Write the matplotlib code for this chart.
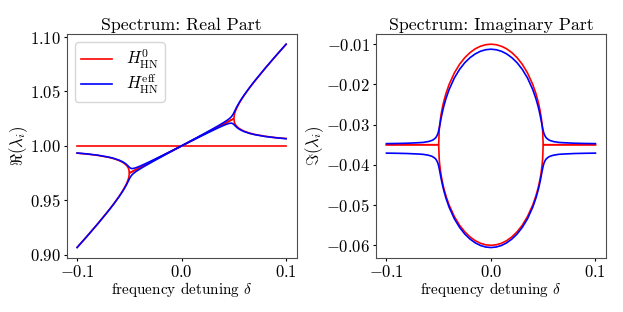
import numpy as np
import matplotlib
matplotlib.use("Agg")
import matplotlib.pyplot as plt

plt.rcParams['font.family'] = 'serif'
plt.rcParams['font.serif'] = ['cmr10']
plt.rcParams['mathtext.fontset'] = 'cm'
plt.rcParams['axes.formatter.use_mathtext'] = True

# ----------DATA----------
delta = [-0.1, -0.09, -0.08, -0.07, -0.065, -0.06, -0.057, -0.055, -0.053, -0.052,
         -0.051, -0.0505, -0.05, -0.0495, -0.049, -0.048, -0.047, -0.046, -0.045,
         -0.043, -0.04, -0.035, -0.03, -0.025, -0.02, -0.015, -0.01, -0.005, 0.0,
         0.005, 0.01, 0.015, 0.02, 0.025, 0.03, 0.035, 0.04, 0.043, 0.045, 0.046,
         0.047, 0.048, 0.049, 0.0495, 0.05, 0.0505, 0.051, 0.052, 0.053, 0.055,
         0.057, 0.06, 0.065, 0.07, 0.08, 0.09, 0.1]

# H_HN^0, real parts
re_h0_a = [0.9933, 0.99242, 0.99122, 0.98949, 0.98827, 0.98658, 0.98518, 0.98396,
           0.98229, 0.98114, 0.97952, 0.97829, 0.975,
           0.97525, 0.9755, 0.976, 0.9765, 0.977, 0.9775, 0.9785, 0.98, 0.9825, 0.985,
           0.9875, 0.99, 0.9925, 0.995, 0.9975, 1.0, 1.0025, 1.005, 1.0075, 1.01,
           1.0125, 1.015, 1.0175, 1.02, 1.0215, 1.0225, 1.023, 1.0235, 1.024, 1.0245,
           1.02475, 1.025,
           1.02879, 1.03052, 1.03314, 1.03529, 1.03896, 1.04218, 1.04658, 1.05327,
           1.05949, 1.07122, 1.08242, 1.0933]
re_h0_b = [0.9067, 0.91758, 0.92878, 0.94051, 0.94673, 0.95342, 0.95782, 0.96104,
           0.96471, 0.96686, 0.96948, 0.97121, 0.975,
           0.97525, 0.9755, 0.976, 0.9765, 0.977, 0.9775, 0.9785, 0.98, 0.9825, 0.985,
           0.9875, 0.99, 0.9925, 0.995, 0.9975, 1.0, 1.0025, 1.005, 1.0075, 1.01,
           1.0125, 1.015, 1.0175, 1.02, 1.0215, 1.0225, 1.023, 1.0235, 1.024, 1.0245,
           1.02475, 1.025,
           1.02171, 1.02048, 1.01886, 1.01771, 1.01604, 1.01482, 1.01342, 1.01173,
           1.01051, 1.00878, 1.00758, 1.0067]
delta_flat = [-0.1, 0.1]
re_h0_flat = [1.0, 1.0]

# H_HN^0, imaginary parts
im_h0_a = [-0.035, -0.035, -0.035, -0.035, -0.035, -0.035, -0.035, -0.035, -0.035,
           -0.035, -0.035, -0.035, -0.035,
           -0.03147, -0.03003, -0.028, -0.02647, -0.0252, -0.0241, -0.02224, -0.02,
           -0.01715, -0.015, -0.01335, -0.01209, -0.01115, -0.01051, -0.01013, -0.01,
           -0.01013, -0.01051, -0.01115, -0.01209, -0.01335, -0.015, -0.01715, -0.02,
           -0.02224, -0.0241, -0.0252, -0.02647, -0.028, -0.03003, -0.03147,
           -0.035, -0.035, -0.035, -0.035, -0.035, -0.035, -0.035, -0.035, -0.035,
           -0.035, -0.035, -0.035, -0.035]
im_h0_b = [-0.035, -0.035, -0.035, -0.035, -0.035, -0.035, -0.035, -0.035, -0.035,
           -0.035, -0.035, -0.035, -0.035,
           -0.03853, -0.03997, -0.042, -0.04353, -0.0448, -0.0459, -0.04776, -0.05,
           -0.05285, -0.055, -0.05665, -0.05791, -0.05885, -0.05949, -0.05987, -0.06,
           -0.05987, -0.05949, -0.05885, -0.05791, -0.05665, -0.055, -0.05285, -0.05,
           -0.04776, -0.0459, -0.0448, -0.04353, -0.042, -0.03997, -0.03853,
           -0.035, -0.035, -0.035, -0.035, -0.035, -0.035, -0.035, -0.035, -0.035,
           -0.035, -0.035, -0.035, -0.035]

# H_HN^eff, real parts
re_eff_a = [0.99342, 0.99256, 0.99139, 0.98972, 0.98854, 0.98694, 0.98564, 0.98454,
            0.98315, 0.9823, 0.98134, 0.98084,
            0.98036, 0.97993, 0.97959, 0.97922, 0.97915, 0.97928, 0.9795, 0.98013,
            0.98129, 0.98344, 0.98572, 0.98805, 0.99042, 0.9928, 0.9952, 0.9976, 1.0,
            1.0024, 1.0048, 1.0072, 1.00958, 1.01195, 1.01428, 1.01656, 1.01871,
            1.01987, 1.0205, 1.02072, 1.02085, 1.02078, 1.02041, 1.02007, 1.01964,
            1.01916, 1.01866, 1.0177, 1.01685, 1.01546, 1.01436, 1.01306, 1.01146,
            1.01028, 1.00861, 1.00744, 1.00658]
re_eff_b = [0.90658, 0.91744, 0.92861, 0.94028, 0.94646, 0.95306, 0.95736, 0.96046,
            0.96385, 0.9657, 0.96766, 0.96866,
            0.96964, 0.97057, 0.97141, 0.97278, 0.97385, 0.97472, 0.9755, 0.97687,
            0.97871, 0.98156, 0.98428, 0.98695, 0.98958, 0.9922, 0.9948, 0.9974, 1.0,
            1.0026, 1.0052, 1.0078, 1.01042, 1.01305, 1.01572, 1.01844, 1.02129,
            1.02313, 1.0245, 1.02528, 1.02615, 1.02722, 1.02859, 1.02943, 1.03036,
            1.03134, 1.03234, 1.0343, 1.03615, 1.03954, 1.04264, 1.04694, 1.05354,
            1.05972, 1.07139, 1.08256, 1.09342]

# H_HN^eff, imaginary parts
im_eff_a = [-0.03708, -0.03712, -0.03718, -0.0373, -0.03738, -0.03759, -0.03782,
            -0.03807, -0.0385, -0.03887, -0.03943, -0.03982, -0.04031, -0.0409,
            -0.04156, -0.04295, -0.04425, -0.04542, -0.04647, -0.0483, -0.05053,
            -0.0534, -0.05554, -0.0572, -0.05845, -0.05939, -0.06004, -0.06042,
            -0.06055,
            -0.06042, -0.06004, -0.05939, -0.05845, -0.0572, -0.05554, -0.0534,
            -0.05053, -0.0483, -0.04647, -0.04542, -0.04425, -0.04295, -0.04156,
            -0.0409, -0.04031, -0.03982, -0.03943, -0.03887, -0.0385, -0.03807,
            -0.03782, -0.03759, -0.03738, -0.0373, -0.03718, -0.03712, -0.03708]
im_eff_b = [-0.03472, -0.03468, -0.03462, -0.0345, -0.03442, -0.03421, -0.03398,
            -0.03373, -0.0333, -0.03293, -0.03237, -0.03198, -0.03149, -0.0309,
            -0.03024, -0.02885, -0.02755, -0.02638, -0.02533, -0.0235, -0.02127,
            -0.0184, -0.01626, -0.0146, -0.01335, -0.01241, -0.01176, -0.01138,
            -0.01125,
            -0.01138, -0.01176, -0.01241, -0.01335, -0.0146, -0.01626, -0.0184,
            -0.02127, -0.0235, -0.02533, -0.02638, -0.02755, -0.02885, -0.03024,
            -0.0309, -0.03149, -0.03198, -0.03237, -0.03293, -0.0333, -0.03373,
            -0.03398, -0.03421, -0.03442, -0.0345, -0.03462, -0.03468, -0.03472]

xticks = [-0.1, 0.0, 0.1]
re_ticks = [0.90, 0.95, 1.00, 1.05, 1.10]
im_ticks = [-0.06, -0.05, -0.04, -0.03, -0.02, -0.01]

# ----------PLOT----------
fig = plt.figure(figsize=(6.23, 3.12), dpi=100)
ax1 = fig.add_axes([0.107, 0.174, 0.369, 0.717])
ax2 = fig.add_axes([0.6035, 0.174, 0.369, 0.717])

lw = 1.2
ax1.plot(delta, re_h0_a, color='red', lw=lw, label=r'$H_{\rm HN}^{0}$')
ax1.plot(delta, re_h0_b, color='red', lw=lw)
ax1.plot(delta_flat, re_h0_flat, color='red', lw=lw)
ax1.plot(delta, re_eff_a, color='blue', lw=lw, label=r'$H_{\rm HN}^{\rm eff}$')
ax1.plot(delta, re_eff_b, color='blue', lw=lw)

ax2.plot(delta, im_h0_a, color='red', lw=lw)
ax2.plot(delta, im_h0_b, color='red', lw=lw)
ax2.plot(delta, im_eff_a, color='blue', lw=lw)
ax2.plot(delta, im_eff_b, color='blue', lw=lw)

ax1.set_title('Spectrum: Real Part', fontsize=12.8, pad=3)
ax2.set_title('Spectrum: Imaginary Part', fontsize=12.8, pad=3)
ax1.set_ylabel(r'$\Re(\lambda_i)$', fontsize=12, labelpad=0)
ax2.set_ylabel(r'$\Im(\lambda_i)$', fontsize=12, labelpad=0)
for ax in (ax1, ax2):
    ax.set_xlabel(r'frequency detuning $\delta$', fontsize=11, labelpad=0)
    ax.set_xticks(xticks)
    ax.set_xticklabels(['$-0.1$', '$0.0$', '$0.1$'])
    ax.tick_params(labelsize=12, length=2.5, pad=2)
    for s in ax.spines.values():
        s.set_color('0.3')

ax1.set_yticks(re_ticks)
ax1.set_yticklabels(['$%.2f$' % t for t in re_ticks])
ax2.set_yticks(im_ticks)
ax2.set_yticklabels(['$-%.2f$' % abs(t) for t in im_ticks])

ax1.legend(loc='upper left', fontsize=12, labelspacing=0.1, handlelength=1.9,
           borderpad=0.35)

fig.savefig('out.png', dpi=100)
